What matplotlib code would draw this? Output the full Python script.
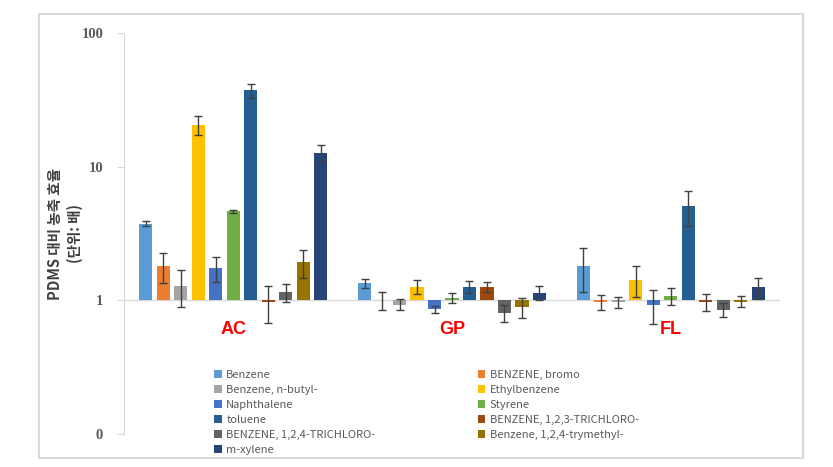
import matplotlib
matplotlib.use('Agg')
import matplotlib.pyplot as plt
import numpy as np
from matplotlib.patches import Rectangle

plt.rcParams['font.family'] = ['Noto Sans CJK KR', 'DejaVu Sans']

#Sites on the category axis
sites = ['AC', 'GP', 'FL']

compounds = ['Benzene', 'BENZENE, bromo', 'Benzene, n-butyl-', 'Ethylbenzene',
             'Naphthalene', 'Styrene', 'toluene', 'BENZENE, 1,2,3-TRICHLORO-',
             'BENZENE, 1,2,4-TRICHLORO-', 'Benzene, 1,2,4-trymethyl-', 'm-xylene']

#Enrichment ratio vs PDMS (one value per compound)
ac_vals = [3.75, 1.80, 1.29, 20.5, 1.74, 4.62, 37.2, 0.98, 1.15, 1.92, 12.6]
gp_vals = [1.34, 1.00, 0.93, 1.26, 0.86, 1.05, 1.26, 1.26, 0.81, 0.89, 1.14]
fl_vals = [1.80, 0.97, 0.97, 1.43, 0.93, 1.08, 5.12, 0.97, 0.85, 0.98, 1.25]

ac_err = [0.15, 0.45, 0.40, 3.3, 0.38, 0.15, 4.5, 0.30, 0.17, 0.45, 1.8]
gp_err = [0.10, 0.16, 0.09, 0.15, 0.05, 0.09, 0.13, 0.11, 0.12, 0.15, 0.14]
fl_err = [0.65, 0.13, 0.09, 0.37, 0.27, 0.15, 1.5, 0.14, 0.10, 0.09, 0.23]

colors = ['#5B9BD5', '#ED7D31', '#A5A5A5', '#FFC000', '#4472C4', '#70AD47',
          '#255E91', '#9E480E', '#636363', '#997300', '#264478']

vals = np.array([ac_vals, gp_vals, fl_vals])
errs = np.array([ac_err, gp_err, fl_err])

fig = plt.figure(figsize=(8.33, 4.67), dpi=100)
ax = fig.add_axes([124/833, 1-434/467, (780-124)/833, (434-33)/467])

x = np.arange(len(sites))
step = 0.08
width = 0.06
n = len(compounds)

ax.axhline(1, color='#D9D9D9', lw=1, zorder=1)

handles = []
for k in range(n):
    xpos = x + (k - (n-1)/2)*step
    # bars hang from 1 (the category axis crosses there)
    b = ax.bar(xpos, vals[:, k] - 1, bottom=1, width=width, color=colors[k],
               label=compounds[k], zorder=2)
    ax.errorbar(xpos, vals[:, k], yerr=errs[:, k], fmt='none', ecolor='#404040',
                elinewidth=1, capsize=3, capthick=1, zorder=3)
    handles.append(b)

ax.set_yscale('log')
ax.set_ylim(0.1, 100)
ax.set_xlim(-0.5, 2.5)
ax.set_yticks([0.1, 1, 10, 100])
ax.set_yticklabels(['0', '1', '10', '100'])
ax.yaxis.set_minor_locator(matplotlib.ticker.NullLocator())
ax.set_xticks([])
for s in ['top', 'right', 'bottom']:
    ax.spines[s].set_visible(False)
ax.spines['left'].set_color('#D9D9D9')
ax.tick_params(axis='y', length=5, color='#D9D9D9', pad=10, labelcolor='#595959')
for t in ax.get_yticklabels():
    t.set_fontfamily('Liberation Serif')
    t.set_fontweight('bold')
    t.set_fontsize(10.5)

#Site labels in red
for i, s in enumerate(sites):
    ax.text(i, 0.61, s, color='#FF0000', fontsize=13, fontweight='bold',
            family='Liberation Sans', ha='center', va='center')

ax.set_ylabel('PDMS 대비 농축 효율\n(단위: 배)', fontsize=10.5, fontweight='bold',
              color='#404040', linespacing=1.3)
ax.yaxis.set_label_coords(-0.063, 0.5)

#Legend is filled row by row in the original
order = list(range(0, n, 2)) + list(range(1, n, 2))
leg = fig.legend([handles[i] for i in order], [compounds[i] for i in order],
                 ncol=2, loc='upper left', bbox_to_anchor=(214/833, 1-370/467),
                 frameon=False, fontsize=8, handlelength=0.7, handleheight=0.7,
                 handletextpad=0.4, labelspacing=0.45, columnspacing=9.2,
                 borderpad=0, borderaxespad=0)
for t in leg.get_texts():
    t.set_color('#595959')

fig.patches.append(Rectangle((39/833, 1-458/467), (803-39)/833, (458-14)/467,
                             transform=fig.transFigure, fill=False,
                             edgecolor='#D9D9D9', lw=1.5))

fig.savefig('out.png', dpi=100)
